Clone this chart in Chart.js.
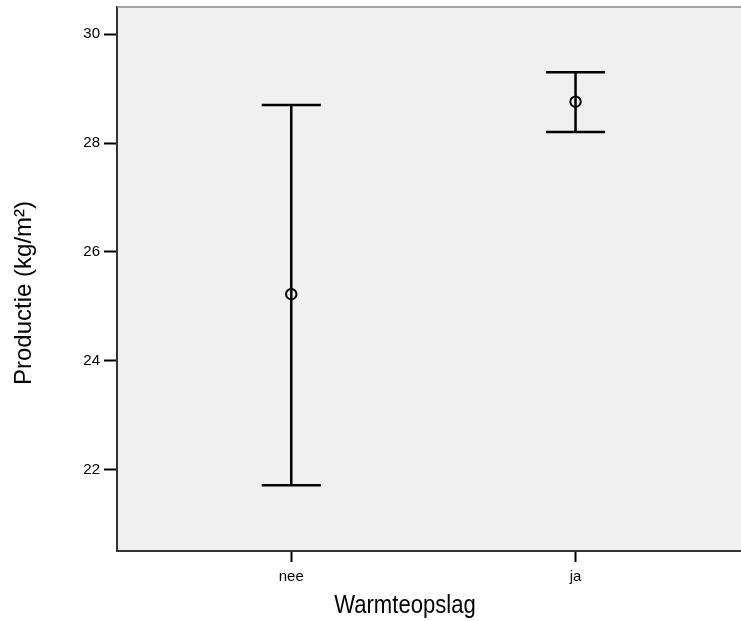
<!DOCTYPE html>
<html>
<head>
<meta charset="utf-8">
<script src="https://cdn.jsdelivr.net/npm/chart.js@4/dist/chart.umd.min.js"></script>
<style>
  html, body { margin: 0; padding: 0; background: #ffffff; overflow: hidden; }
  #wrap { position: relative; width: 741px; height: 621px; }
</style>
</head>
<body>
<div id="wrap"><canvas id="chart" width="741" height="621"></canvas></div>
<script>
// Production per group: mean with its interval (lower / upper)
const categories = ['nee', 'ja'];
const means = [25.22, 28.76];
const lower = [21.71, 28.20];
const upper = [28.70, 29.30];
const yTicks = [22, 24, 26, 28, 30];
const yTitle = 'Productie (kg/m\u00B2)';
const xTitle = 'Warmteopslag';

const CAP_HALF = 0.104; // half width of the whisker caps, in x units

// Build the whisker and cap segments from the value arrays (null = gap)
const stems = [];
const caps = [];
categories.forEach((c, i) => {
  const x = i + 1;
  stems.push({ x: x, y: lower[i] }, { x: x, y: upper[i] }, { x: x, y: null });
  caps.push({ x: x - CAP_HALF, y: upper[i] }, { x: x + CAP_HALF, y: upper[i] }, { x: x, y: null });
  caps.push({ x: x - CAP_HALF, y: lower[i] }, { x: x + CAP_HALF, y: lower[i] }, { x: x, y: null });
});
const meanPoints = means.map((m, i) => ({ x: i + 1, y: m }));

// Plot background, top frame line and axis titles
const frame = {
  id: 'frame',
  beforeDraw(chart) {
    const { ctx, chartArea: a } = chart;
    ctx.save();
    ctx.fillStyle = '#f0f0f0';
    ctx.fillRect(a.left, a.top, a.right - a.left, a.bottom - a.top);
    ctx.restore();
  },
  afterDraw(chart) {
    const { ctx, chartArea: a } = chart;
    ctx.save();
    ctx.strokeStyle = '#8a8a8a';
    ctx.lineWidth = 1.5;
    ctx.beginPath();
    ctx.moveTo(a.left, a.top);
    ctx.lineTo(a.right, a.top);
    ctx.stroke();

    ctx.fillStyle = '#000';
    ctx.textAlign = 'center';
    ctx.textBaseline = 'middle';
    ctx.font = '24px "Liberation Sans", Arial, sans-serif';
    ctx.translate(24, (a.top + a.bottom) / 2 + 14);
    ctx.rotate(-Math.PI / 2);
    ctx.fillText(yTitle, 0, 0);
    ctx.restore();

    // condensed axis title
    ctx.save();
    ctx.fillStyle = '#000';
    ctx.textAlign = 'center';
    ctx.textBaseline = 'alphabetic';
    ctx.font = '26px "Liberation Sans", Arial, sans-serif';
    ctx.translate(405, 613);
    ctx.scale(0.85, 1);
    ctx.fillText(xTitle, 0, 0);
    ctx.restore();
  }
};

new Chart(document.getElementById('chart'), {
  type: 'scatter',
  data: {
    datasets: [
      {
        data: stems, showLine: true, spanGaps: false,
        borderColor: '#000', borderWidth: 2.5, borderCapStyle: 'butt',
        pointRadius: 0, pointHoverRadius: 0
      },
      {
        data: caps, showLine: true, spanGaps: false,
        borderColor: '#000', borderWidth: 2.5, borderCapStyle: 'butt',
        pointRadius: 0, pointHoverRadius: 0
      },
      {
        data: meanPoints, showLine: false,
        pointStyle: 'circle', pointRadius: 5.2, pointBorderWidth: 2,
        pointBorderColor: '#000', pointBackgroundColor: 'rgba(0,0,0,0)'
      }
    ]
  },
  options: {
    responsive: false,
    animation: false,
    events: [],
    layout: { autoPadding: false, padding: { top: 7, right: 0, left: 0, bottom: 0 } },
    plugins: { legend: { display: false }, tooltip: { enabled: false } },
    scales: {
      x: {
        type: 'linear',
        min: 0.387, max: 2.582,
        afterBuildTicks(scale) { scale.ticks = categories.map((c, i) => ({ value: i + 1 })); },
        afterFit(scale) { scale.height = 70; scale.paddingLeft = 0; scale.paddingRight = 0; },
        border: { display: true, color: '#333', width: 2 },
        grid: { display: true, drawOnChartArea: false, drawTicks: true, tickLength: 11, tickColor: '#000', tickWidth: 2 },
        ticks: {
          padding: 6,
          color: '#000',
          font: { family: '"Liberation Sans", Arial, sans-serif', size: 15 },
          callback(v) { return categories[Math.round(v) - 1]; }
        }
      },
      y: {
        type: 'linear',
        min: 20.5, max: 30.5,
        afterBuildTicks(scale) { scale.ticks = yTicks.map(v => ({ value: v })); },
        afterFit(scale) { scale.width = 117; scale.paddingTop = 0; scale.paddingBottom = 0; },
        border: { display: true, color: '#333', width: 2 },
        grid: { display: true, drawOnChartArea: false, drawTicks: true, tickLength: 13, tickColor: '#000', tickWidth: 2 },
        ticks: {
          padding: 4,
          color: '#000',
          font: { family: '"Liberation Sans", Arial, sans-serif', size: 15 }
        }
      }
    }
  },
  plugins: [frame]
});
</script>
</body>
</html>
